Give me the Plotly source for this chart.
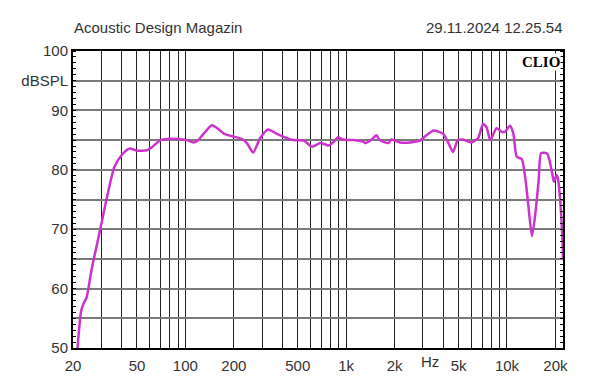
import numpy as np
import plotly.graph_objects as go

# Frequency response (Hz, dB SPL)
freq_hz = [21.0, 21.3, 21.8, 22.4, 23.2, 24.3, 26.1, 29.5, 32.6, 36.2, 40.2, 45.0, 50, 57.6,
           61.9, 69.9, 78, 88.4, 102, 112, 118, 130, 146, 156, 176, 198, 224, 241, 264,
           291, 327, 368, 405, 470, 545, 613, 690, 779, 837, 889, 950, 1110, 1280, 1320,
           1440, 1540, 1615, 1830, 1910, 2160, 2500, 2870, 3150, 3500, 3990, 4290, 4610,
           4950, 5320, 6000, 6600, 7100, 7450, 7880, 8600, 9250, 9700, 10440, 10950,
           11500, 12350, 12970, 13600, 14300, 15020, 15750, 16300, 17800, 19100, 19550,
           20340, 20730, 21330, 22040, 22330]
spl_db = [48.0, 49.8, 53.0, 56.0, 57.4, 58.5, 63.2, 69.9, 75.5, 80.5, 82.5, 83.6, 83.2, 83.3,
          83.8, 85.0, 85.2, 85.2, 85.0, 84.6, 84.8, 86.1, 87.5, 87.1, 86.0, 85.6, 85.2, 84.5,
          82.9, 85.3, 86.8, 86.1, 85.6, 85.0, 84.9, 83.9, 84.5, 84.1, 84.7, 85.5, 85.1, 85.0,
          84.7, 84.5, 85.1, 85.8, 85.0, 84.5, 85.1, 84.6, 84.6, 84.9, 85.8, 86.6, 86.1, 84.7,
          83.0, 85.0, 85.1, 84.6, 85.3, 87.7, 87.2, 85.0, 87.0, 86.4, 86.4, 87.4, 86.1, 82.2,
          81.8, 78.8, 73.8, 68.8, 72.7, 78.3, 82.8, 82.7, 79.4, 78.0, 79.1, 78.6, 75.5, 69.3,
          64.8]

# Axis ticks
x_grid = [m * 10 ** d for d in range(1, 5) for m in range(1, 10) if 20 <= m * 10 ** d <= 20000]
x_labels = {20: "20", 50: "50", 100: "100", 200: "200", 500: "500", 1000: "1k",
            2000: "2k", 5000: "5k", 10000: "10k", 20000: "20k"}
x_text = [x_labels.get(v, "") for v in x_grid]
y_grid = list(range(50, 101, 5))
y_labels = {50: "50", 60: "60", 70: "70", 80: "80", 90: "90", 95: "dBSPL", 100: "100"}
y_text = [y_labels.get(v, "") for v in y_grid]

header_left = "Acoustic Design Magazin"
header_right = "29.11.2024 12.25.54"
unit_label = "Hz"
unit_pos_hz = 3300
brand = "CLIO"

fig = go.Figure()
fig.add_trace(go.Scatter(x=freq_hz, y=spl_db, mode="lines",
                         line=dict(color="#CC33CC", width=2.5, shape="spline", smoothing=0.6),
                         hoverinfo="skip", showlegend=False))
# invisible helper trace so the right-hand tick axis is drawn
fig.add_trace(go.Scatter(x=[freq_hz[0]], y=[spl_db[0]], yaxis="y2", mode="markers",
                         marker=dict(opacity=0), hoverinfo="skip", showlegend=False))

font = dict(family="Liberation Sans, Arial, sans-serif", size=15, color="#333333")
minor_ticks = dict(dtick=1, ticks="inside", ticklen=3, tickcolor="black",
                   tickwidth=1, showgrid=False)

# page body adds an 8px offset, so the figure is 8px smaller than the window
fig.update_layout(
    width=592, height=376,
    margin=dict(l=65, r=37, t=43, b=36),
    paper_bgcolor="white", plot_bgcolor="white",
    font=font,
    showlegend=False,
    xaxis=dict(type="log", range=[np.log10(20), np.log10(22300)],
               tickmode="array", tickvals=x_grid, ticktext=x_text, automargin=False,
               showgrid=True, gridcolor="#222222", gridwidth=1,
               ticks="", showline=True, linecolor="black", linewidth=2, mirror=True,
               zeroline=False, tickfont=font, ticklabelstandoff=3),
    yaxis=dict(range=[50, 100], tickmode="array", tickvals=y_grid, ticktext=y_text,
               automargin=False,
               showgrid=True, gridcolor="#7a7a7a", gridwidth=1.5,
               ticks="", showline=True, linecolor="black", linewidth=2, mirror=True,
               zeroline=False, tickfont=font, minor=minor_ticks),
    yaxis2=dict(range=[50, 100], overlaying="y", side="right", automargin=False,
                tickmode="array", tickvals=y_grid, showticklabels=False,
                showgrid=False, zeroline=False, ticks="", showline=False,
                minor=minor_ticks),
)

fig.add_annotation(text=header_left, xref="paper", yref="paper", x=0, y=1,
                   xanchor="left", yanchor="bottom", yshift=13, xshift=-1, showarrow=False,
                   font=font)
fig.add_annotation(text=header_right, xref="paper", yref="paper", x=1, y=1,
                   xanchor="right", yanchor="bottom", yshift=13, xshift=2, showarrow=False,
                   font=font)
fig.add_annotation(text=unit_label, xref="x", yref="paper", x=np.log10(unit_pos_hz), y=0,
                   xanchor="center", yanchor="top", yshift=-3, showarrow=False, font=font)
fig.add_annotation(text="<b>" + brand + "</b>", xref="paper", yref="paper", x=1, y=1,
                   xanchor="right", yanchor="top", xshift=-2, yshift=-2, showarrow=False,
                   bgcolor="white", borderpad=0,
                   font=dict(family="Liberation Serif, Times New Roman, serif", size=15, color="black"))

fig.write_html("out.html")
